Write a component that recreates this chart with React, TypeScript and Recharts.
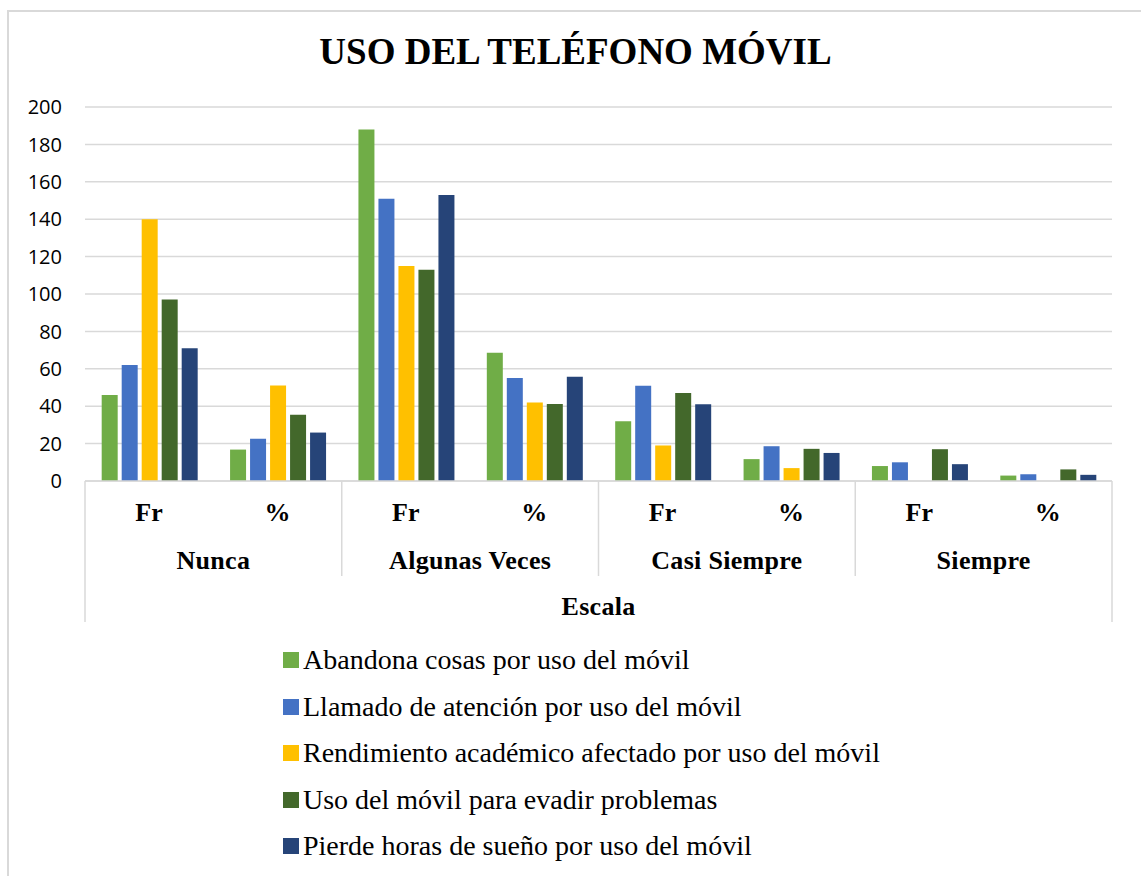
import { BarChart, Bar, XAxis, YAxis, CartesianGrid, Legend } from 'recharts';

const groups = ['Nunca', 'Algunas Veces', 'Casi Siempre', 'Siempre'];
const subLabels = ['Fr', '%'];

const seriesNames = [
  'Abandona cosas por uso del móvil',
  'Llamado de atención por uso del móvil',
  'Rendimiento académico afectado por uso del móvil',
  'Uso del móvil para evadir problemas',
  'Pierde horas de sueño por uso del móvil',
];
const seriesColors = ['#70ad47', '#4472c4', '#ffc000', '#43682b', '#264478'];

// order: Nunca Fr, Nunca %, Algunas Fr, Algunas %, Casi Fr, Casi %, Siempre Fr, Siempre %
const abandona = [46, 16.8, 188, 68.6, 32, 11.7, 8, 2.9];
const llamado = [62, 22.6, 151, 55.1, 51, 18.6, 10, 3.6];
const rendimiento = [140, 51.1, 115, 42.0, 19, 6.9, 0, 0];
const evadir = [97, 35.4, 113, 41.2, 47, 17.2, 17, 6.2];
const sueno = [71, 25.9, 153, 55.8, 41, 15.0, 9, 3.3];

const yTicks = [0, 20, 40, 60, 80, 100, 120, 140, 160, 180, 200];

const seriesValues = [abandona, llamado, rendimiento, evadir, sueno];

const data = groups.flatMap((g, gi) =>
  subLabels.map((s, si) => {
    const idx = gi * 2 + si;
    const row: Record<string, string | number> = { sub: s, group: g };
    seriesValues.forEach((vals, k) => {
      row[`s${k}`] = vals[idx];
    });
    return row;
  })
);

const W = 1141;
const H = 876;
const M_LEFT = 25;
const Y_W = 60;
const M_RIGHT = 29;
const M_TOP = 107;
const SUB_H = 45;
const GRP_H = 50;
const LEG_H = 293.5;
const M_BOTTOM = 6.5;
const PLOT_W = W - M_LEFT - Y_W - M_RIGHT;
const HALF_GROUP = PLOT_W / groups.length / 2;
const GRID = '#d9d9d9';
const SERIF = '"Liberation Serif", "Times New Roman", serif';

const SubTick = (props: any) => {
  const { x, y, payload } = props;
  return (
    <text x={x} y={y + 40} textAnchor="middle" fontFamily={SERIF} fontWeight="bold" fontSize={26} letterSpacing={0.3} fill="#000">
      {payload.value}
    </text>
  );
};

const GroupTick = (props: any) => {
  const { x, y, payload, index } = props;
  const last = index === groups.length - 1;
  const top = y - SUB_H;
  return (
    <g>
      <line x1={x - HALF_GROUP} x2={x - HALF_GROUP} y1={top} y2={index === 0 ? y + GRP_H + 46 : y + GRP_H} stroke={GRID} strokeWidth={1.5} />
      {last && (
        <line x1={x + HALF_GROUP} x2={x + HALF_GROUP} y1={top} y2={y + GRP_H + 46} stroke={GRID} strokeWidth={1.5} />
      )}
      <text x={x} y={y + 43} textAnchor="middle" fontFamily={SERIF} fontWeight="bold" fontSize={26} letterSpacing={0.3} fill="#000">
        {payload.value}
      </text>
    </g>
  );
};

const EscalaLabel = (props: any) => {
  const { viewBox } = props;
  if (!viewBox) return null;
  return (
    <text x={viewBox.x + viewBox.width / 2} y={viewBox.y + viewBox.height + 39} textAnchor="middle" fontFamily={SERIF} fontWeight="bold" fontSize={26} letterSpacing={0.3} fill="#000">
      Escala
    </text>
  );
};

const LegendContent = () => (
  <div style={{ height: LEG_H, paddingTop: 61, boxSizing: 'border-box' }}>
    {seriesNames.map((name, i) => (
      <div key={name} style={{ height: 46.5, display: 'flex', alignItems: 'center' }}>
        <span style={{ width: 16, height: 16, background: seriesColors[i], display: 'inline-block', marginRight: 4, flexShrink: 0 }} />
        <span style={{ fontFamily: SERIF, fontSize: 28, color: '#000', whiteSpace: 'nowrap' }}>{name}</span>
      </div>
    ))}
  </div>
);

export default function App() {
  return (
    <div style={{ position: 'absolute', left: 0, top: 0, width: W, height: H, background: '#fff', overflow: 'hidden' }}>
      <div
        style={{
          position: 'absolute',
          left: 7,
          top: 10,
          width: W - 7,
          height: H - 10,
          borderLeft: `2px solid ${GRID}`,
          borderTop: `2px solid ${GRID}`,
          boxSizing: 'border-box',
        }}
      />
      <div
        style={{
          position: 'absolute',
          left: 0,
          width: 1151,
          top: 28,
          textAlign: 'center',
          fontFamily: SERIF,
          fontWeight: 'bold',
          fontSize: 37,
          color: '#000',
          lineHeight: '48px',
        }}
      >
        USO DEL TELÉFONO MÓVIL
      </div>
      <div style={{ position: 'absolute', left: 0, top: 0 }}>
        <BarChart
          width={W}
          height={H}
          data={data}
          margin={{ top: M_TOP, right: M_RIGHT, left: M_LEFT, bottom: M_BOTTOM }}
          barCategoryGap="13%"
          barGap={4}
        >
          <CartesianGrid vertical={false} stroke={GRID} strokeWidth={1.5} />
          <XAxis
            dataKey="sub"
            height={SUB_H}
            tickLine={false}
            tickSize={0}
            tickMargin={0}
            axisLine={{ stroke: GRID, strokeWidth: 1.5 }}
            tick={<SubTick />}
            interval={0}
          />
          <XAxis
            xAxisId="grp"
            dataKey="group"
            allowDuplicatedCategory={false}
            height={GRP_H}
            tickLine={false}
            tickSize={0}
            tickMargin={0}
            axisLine={false}
            tick={<GroupTick />}
            interval={0}
            label={<EscalaLabel />}
          />
          <YAxis
            width={Y_W}
            domain={[0, 200]}
            ticks={yTicks}
            axisLine={false}
            tickLine={false}
            tickMargin={17}
            tick={{ fontFamily: '"Open Sans", sans-serif', fontSize: 20, fill: '#000' }}
          />
          <Legend
            layout="vertical"
            verticalAlign="bottom"
            align="center"
            wrapperStyle={{ left: 283 }}
            content={<LegendContent />}
          />
          {seriesNames.map((name, i) => (
            <Bar key={name} dataKey={`s${i}`} name={name} fill={seriesColors[i]} isAnimationActive={false} />
          ))}
        </BarChart>
      </div>
    </div>
  );
}
